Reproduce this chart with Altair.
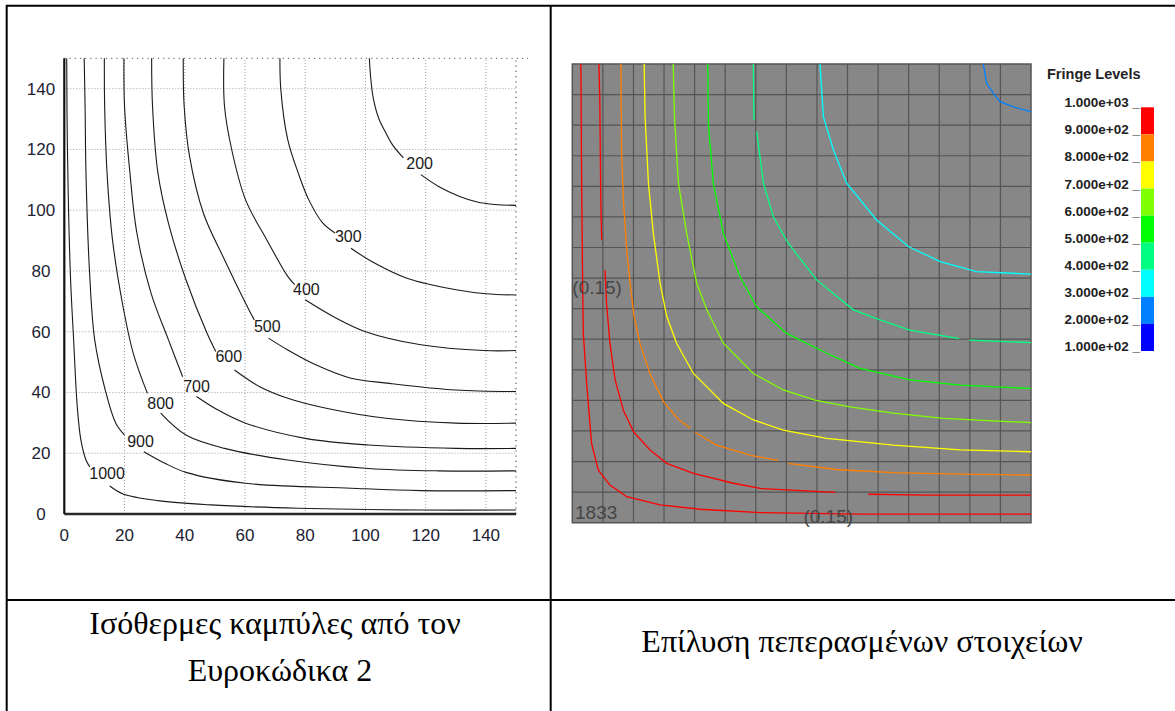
import altair as alt
import pandas as pd

# ------------------------------------------------------------------ data
# Left panel: Eurocode 2 isotherms (quarter section, mm), segments split at labels
EC2_1000 = [[(0.8, 150), (1.0, 123.2), (2.0, 79.3), (3.1, 57.3), (4.3, 35.4), (5.5, 24.4), (7.2, 17.8), (8.5, 15.5)],
            [(15.1, 9.2), (19.5, 6.6), (31.1, 4.4), (48.6, 3.0), (77.7, 1.9), (118.4, 1.3), (150, 1.3)]]
EC2_900 = [[(6.6, 150), (6.9, 134.2), (7.2, 112.2), (8.4, 79.3), (10.1, 57.3), (13.6, 40.8), (17.1, 29.9), (20.0, 26.0)],
           [(26.4, 20.5), (33.4, 16.7), (40.4, 13.7), (60.2, 10.1), (95.2, 8.5), (118.4, 7.7), (150, 7.7)]]
EC2_800 = [[(13.3, 150), (13.4, 134.2), (14.2, 112.2), (16.0, 90.3), (19.5, 68.3), (22.9, 52.9), (27.6, 39.7)],
           [(32.0, 33.2), (40.4, 26.0), (53.2, 21.6), (74.2, 17.8), (101.0, 15.0), (124.3, 14.2), (150, 14.2)]]
EC2_700 = [[(19.8, 150), (20.0, 134.2), (21.8, 112.2), (24.1, 92.5), (28.8, 72.7), (34.6, 57.3), (39.3, 45.2)],
           [(43.9, 38.7), (50.9, 34.3), (60.2, 29.9), (80.0, 24.9), (101.0, 22.7), (130.1, 21.6), (150, 21.6)]]
EC2_600 = [[(29.0, 150), (29.3, 134.2), (31.1, 112.2), (34.6, 95.7), (40.4, 77.1), (47.4, 59.5), (50.3, 53.5)],
           [(56.5, 47.4), (64.9, 41.9), (74.2, 38.1), (87.0, 34.8), (106.8, 31.5), (130.1, 29.9), (150, 29.9)]]
EC2_500 = [[(39.5, 150), (39.8, 134.2), (41.6, 117.7), (46.2, 99.0), (53.2, 83.7), (60.2, 69.4), (63.1, 63.9)],
           [(67.8, 57.9), (74.2, 54.0), (83.5, 49.1), (95.2, 44.7), (108.0, 43.0), (130.1, 40.8), (150, 40.3)]]
EC2_400 = [[(53.0, 150), (53.2, 134.2), (55.6, 119.9), (60.2, 103.4), (67.2, 90.3), (74.2, 78.2), (76.5, 75.5)],
           [(80.0, 70.5), (89.3, 65.0), (99.8, 60.1), (118.4, 55.7), (139.4, 53.8), (150, 53.8)]]
EC2_300 = [[(71.6, 150), (71.9, 139.7), (74.2, 123.2), (77.7, 112.2), (81.2, 103.4), (85.8, 95.8), (89.9, 92.5)],
           [(95.2, 87.5), (102.1, 83.1), (113.8, 77.6), (130.1, 73.8), (140.0, 72.5), (150, 72.1)]]
EC2_200 = [[(101.3, 150), (101.8, 143.0), (102.7, 136.4), (104.5, 130.0), (106.8, 125.4), (109.0, 121.5), (112.6, 117.2)],
           [(118.4, 111.7), (124.3, 107.8), (131.3, 104.5), (137.1, 102.7), (143.0, 101.9), (150, 101.6)]]

EC2_LABEL_TEXT = ["1000", "900", "800", "700", "600", "500", "400", "300", "200"]
EC2_LABEL_X = [14.2, 25.3, 32.0, 43.9, 54.6, 67.4, 80.4, 94.3, 118.0]
EC2_LABEL_Y = [13.2, 23.8, 36.1, 41.9, 51.8, 61.7, 73.8, 91.1, 115.3]

AXIS_TICKS = [0, 20, 40, 60, 80, 100, 120, 140]
GRID_TICKS = [20, 40, 60, 80, 100, 120, 140]

# Right panel: finite element solution isotherms
FE_1000 = [[(2.8, 150), (3.05, 112.1), (3.4, 76.1), (3.6, 61.9), (4.7, 45.6), (6.3, 25.9), (8.5, 17.2), (12.3, 12.3),
            (17.8, 8.5), (28.7, 5.8), (41.8, 4.4), (61.4, 3.3), (94.1, 2.8), (150, 2.8)]]
FE_900 = [[(8.7, 150), (9.0, 138.2), (9.3, 106.6), (9.6, 92.5)],
          [(10.7, 82.6), (11.2, 71.7), (12.3, 58.7), (14.0, 46.7), (16.7, 36.8), (20.0, 29.8), (25.4, 23.8),
           (30.9, 19.4), (39.6, 16.1), (52.7, 12.9), (61.4, 11.2), (86.0, 9.9)],
          [(96.8, 9.3), (115.9, 9.0), (150, 9.0)]]
FE_800 = [[(15.9, 150), (16.1, 121.9), (16.7, 105.5), (17.8, 89.2), (18.9, 78.3), (20.2, 67.4), (22.1, 58.7),
           (25.4, 48.8), (29.8, 39.6), (34.5, 34.0), (38.5, 30.9)],
          [(40.2, 29.5), (47.2, 25.4), (58.1, 22.1), (67.4, 20.3)],
          [(70.6, 19.4), (86.4, 17.4), (105.0, 16.4), (126.8, 15.9), (150, 15.6)]]
FE_700 = [[(23.5, 150), (23.8, 132.8), (24.9, 111.0), (26.5, 94.6), (28.7, 78.3), (30.9, 67.4), (34.1, 58.7),
           (39.6, 48.8), (49.4, 39.0), (59.2, 33.6), (69.0, 30.3), (83.2, 27.6), (105.0, 25.4), (126.8, 23.8), (150, 23.2)]]
FE_600 = [[(33.0, 150), (33.4, 132.8), (34.7, 111.0), (37.4, 94.6), (40.7, 78.3), (44.0, 69.6), (49.4, 58.7),
           (59.2, 48.8), (69.0, 43.4), (79.4, 40.1), (90.8, 37.9), (105.0, 35.8), (121.3, 34.1), (150, 32.7)]]
FE_500 = [[(44.3, 150), (44.5, 130.6), (46.1, 111.0), (49.4, 94.6), (54.8, 80.5), (60.3, 70.6), (70.1, 61.9),
           (83.2, 55.4), (94.1, 50.5), (110.4, 46.7), (126.8, 45.0), (150, 43.9)]]
FE_400 = [[(59.2, 150), (59.4, 131.7)],
          [(60.3, 127.9), (62.5, 111.0), (65.7, 100.1), (70.6, 91.4), (79.9, 79.4), (91.9, 69.6), (100.6, 66.3),
           (110.4, 63.0), (126.5, 60.2)],
          [(129.8, 59.7), (150, 58.9)]]
FE_300 = [[(81.0, 150), (82.1, 132.8), (85.4, 121.9), (89.7, 111.0), (99.5, 99.0), (109.9, 90.3), (120.3, 85.4),
           (132.2, 82.1), (150, 81.3)]]
FE_200 = [[(134.4, 150), (135.5, 143.7), (137.7, 140.4), (139.9, 137.7), (144.2, 136.0), (150, 134.4)]]

FE_LEVELS = ["1000", "900", "800", "700", "600", "500", "400", "300", "200"]
FE_LINE_COLORS = ["#ff0000", "#ff0000", "#ff8000", "#ffff00", "#80ff00", "#00ff00", "#00ff80", "#00ffff", "#0080ff"]
FE_GRID = [10, 20, 30, 40, 50, 60, 70, 80, 90, 100, 110, 120, 130, 140]

FE_NOTE_TEXT = ["(0.15)", "1833", "(0.15)"]
FE_NOTE_X = [0.0, 0.9, 83.7]
FE_NOTE_Y = [76.6, 3.1, 2.0]
FE_NOTE_ALIGN = ["left", "left", "center"]

LEGEND_VALUES = [1000, 900, 800, 700, 600, 500, 400, 300, 200, 100]
LEGEND_BAND_COLORS = ["#ff0000", "#ff8000", "#ffff00", "#80ff00", "#00ff00", "#00ff80", "#00ffff", "#0080ff", "#0000ff"]

CAPTION_LEFT = ["Ισόθερμες καμπύλες από τον", "Ευροκώδικα 2"]
CAPTION_RIGHT = "Επίλυση πεπερασμένων στοιχείων"


# ------------------------------------------------------------------ frames
def contour_frame(curves):
    rows = []
    for lev, segs in curves:
        for s, seg in enumerate(segs):
            for i, (x, y) in enumerate(seg):
                rows.append(dict(level=lev, seg=f"{lev}-{s}", i=i, x=x, y=y))
    return pd.DataFrame(rows)


ec2_df = contour_frame([("1000", EC2_1000), ("900", EC2_900), ("800", EC2_800), ("700", EC2_700),
                        ("600", EC2_600), ("500", EC2_500), ("400", EC2_400), ("300", EC2_300), ("200", EC2_200)])
fe_df = contour_frame([("1000", FE_1000), ("900", FE_900), ("800", FE_800), ("700", FE_700),
                       ("600", FE_600), ("500", FE_500), ("400", FE_400), ("300", FE_300), ("200", FE_200)])
ec2_lab = pd.DataFrame({"t": EC2_LABEL_TEXT, "x": EC2_LABEL_X, "y": EC2_LABEL_Y})
ticks_df = pd.DataFrame({"v": AXIS_TICKS, "t": [str(v) for v in AXIS_TICKS]})
grid_df = pd.DataFrame({"v": GRID_TICKS, "lo": 0, "hi": 150})
fe_grid_df = pd.DataFrame({"v": FE_GRID, "lo": 0, "hi": 150})
frame_df = pd.DataFrame({"lo": [0], "hi": [150]})
fe_notes = pd.DataFrame({"t": FE_NOTE_TEXT, "x": FE_NOTE_X, "y": FE_NOTE_Y, "a": FE_NOTE_ALIGN})
bands = pd.DataFrame({"lo": LEGEND_VALUES[1:], "hi": LEGEND_VALUES[:-1],
                      "band": [str(v) for v in LEGEND_VALUES[:-1]]})
leg_lab = pd.DataFrame({"v": LEGEND_VALUES, "t": [f"{v:.3e} _" for v in LEGEND_VALUES]})
one = pd.DataFrame({"k": [0]})

# ------------------------------------------------------------------ scales
XL = alt.Scale(domain=[0, 150], range=[64.3, 516], nice=False, zero=False)
YL = alt.Scale(domain=[0, 150], range=[514, 58.3], nice=False, zero=False)
XF = alt.Scale(domain=[0, 150], range=[572.3, 1031], nice=False, zero=False)
YF = alt.Scale(domain=[0, 150], range=[522.7, 64], nice=False, zero=False)
YG = alt.Scale(domain=[100, 1000], range=[351, 107.3], nice=False, zero=False)

SANS = "Liberation Sans"
SERIF = "Liberation Serif"

layers = []

# ---------------- table borders
def vrule(x, y1, y2, w=2):
    return alt.Chart(one).mark_rule(color="black", strokeWidth=w).encode(
        x=alt.value(x), y=alt.value(y1), y2=alt.value(y2))

def hrule(y, x1, x2, w=2):
    return alt.Chart(one).mark_rule(color="black", strokeWidth=w).encode(
        y=alt.value(y), x=alt.value(x1), x2=alt.value(x2))

layers += [hrule(5.7, 6, 1175), hrule(600, 6, 1175), vrule(6.7, 5, 711), vrule(550.7, 5, 711)]

# ---------------- left panel: grid
layers.append(alt.Chart(grid_df).mark_rule(color="#a0a0a0", strokeWidth=1, strokeDash=[1, 2]).encode(
    x=alt.X("v:Q", scale=XL, axis=None), y=alt.Y("lo:Q", scale=YL, axis=None), y2="hi:Q"))
layers.append(alt.Chart(grid_df).mark_rule(color="#a0a0a0", strokeWidth=1, strokeDash=[1, 2]).encode(
    y=alt.Y("v:Q", scale=YL, axis=None), x=alt.X("lo:Q", scale=XL, axis=None), x2="hi:Q"))
# dotted frame at 150
layers.append(alt.Chart(frame_df).mark_rule(color="#555555", strokeWidth=1.2, strokeDash=[1.2, 4]).encode(
    x=alt.X("hi:Q", scale=XL, axis=None), y=alt.Y("lo:Q", scale=YL, axis=None), y2="hi:Q"))
layers.append(alt.Chart(pd.DataFrame({"lo": [0], "hi": [154], "top": [150]})).mark_rule(
    color="#777777", strokeWidth=1.2, strokeDash=[1.2, 4]).encode(
    y=alt.Y("top:Q", scale=YL, axis=None), x=alt.X("lo:Q", scale=XL, axis=None), x2="hi:Q"))
# axis lines
layers.append(alt.Chart(frame_df).mark_rule(color="#2a2a2a", strokeWidth=2.6).encode(
    y=alt.Y("lo:Q", scale=YL, axis=None), x=alt.X("lo:Q", scale=XL, axis=None), x2="hi:Q"))
layers.append(alt.Chart(frame_df).mark_rule(color="#111111", strokeWidth=2.2).encode(
    x=alt.X("lo:Q", scale=XL, axis=None), y=alt.Y("lo:Q", scale=YL, axis=None), y2="hi:Q"))
# tick labels
layers.append(alt.Chart(ticks_df).mark_text(font=SANS, fontSize=17, color="#222233", align="center",
                                            baseline="middle").encode(
    x=alt.X("v:Q", scale=XL, axis=None), y=alt.value(536), text="t:N"))
layers.append(alt.Chart(ticks_df).mark_text(font=SANS, fontSize=17, color="#222233", align="center",
                                            baseline="middle", dy=1).encode(
    y=alt.Y("v:Q", scale=YL, axis=None), x=alt.value(41), text="t:N"))
# contours
layers.append(alt.Chart(ec2_df).mark_line(color="#1a1a1a", strokeWidth=1.1, interpolate="catmull-rom").encode(
    x=alt.X("x:Q", scale=XL, axis=None), y=alt.Y("y:Q", scale=YL, axis=None),
    detail="seg:N", order="i:Q"))
layers.append(alt.Chart(ec2_lab).mark_text(font=SANS, fontSize=16, color="#1a1a1a", align="center",
                                           baseline="middle").encode(
    x=alt.X("x:Q", scale=XL, axis=None), y=alt.Y("y:Q", scale=YL, axis=None), text="t:N"))

# ---------------- right panel: finite element result
layers.append(alt.Chart(frame_df).mark_rect(fill="#878787", stroke="#555555", strokeWidth=1.5).encode(
    x=alt.X("lo:Q", scale=XF, axis=None), x2="hi:Q", y=alt.Y("lo:Q", scale=YF, axis=None), y2="hi:Q"))
layers.append(alt.Chart(fe_grid_df).mark_rule(color="#555555", strokeWidth=1.2).encode(
    x=alt.X("v:Q", scale=XF, axis=None), y=alt.Y("lo:Q", scale=YF, axis=None), y2="hi:Q"))
layers.append(alt.Chart(fe_grid_df).mark_rule(color="#555555", strokeWidth=1.2).encode(
    y=alt.Y("v:Q", scale=YF, axis=None), x=alt.X("lo:Q", scale=XF, axis=None), x2="hi:Q"))
layers.append(alt.Chart(fe_df).mark_line(strokeWidth=1.3).encode(
    x=alt.X("x:Q", scale=XF, axis=None), y=alt.Y("y:Q", scale=YF, axis=None),
    color=alt.Color("level:N", scale=alt.Scale(domain=FE_LEVELS, range=FE_LINE_COLORS), legend=None),
    detail="seg:N", order="i:Q"))
for al in ["left", "center"]:
    layers.append(alt.Chart(fe_notes[fe_notes.a == al]).mark_text(
        font=SANS, fontSize=19, color="#454545", align=al, baseline="middle").encode(
        x=alt.X("x:Q", scale=XF, axis=None), y=alt.Y("y:Q", scale=YF, axis=None), text="t:N"))

# ---------------- fringe legend
layers.append(alt.Chart(one).mark_text(text="Fringe Levels", font=SANS, fontSize=14.5, fontWeight="bold",
                                       color="#222222", align="left", baseline="alphabetic").encode(
    x=alt.value(1047), y=alt.value(79)))
layers.append(alt.Chart(bands).mark_rect().encode(
    x=alt.value(1141), x2=alt.value(1154),
    y=alt.Y("lo:Q", scale=YG, axis=None), y2="hi:Q",
    color=alt.Color("band:N", scale=alt.Scale(domain=[str(v) for v in LEGEND_VALUES[:-1]],
                                              range=LEGEND_BAND_COLORS), legend=None)))
layers.append(alt.Chart(leg_lab).mark_text(font=SANS, fontSize=13.5, fontWeight="bold", color="#222222",
                                           align="right", baseline="alphabetic").encode(
    x=alt.value(1140), y=alt.Y("v:Q", scale=YG, axis=None), text="t:N"))

# ---------------- captions
layers.append(alt.Chart(one).mark_text(text=CAPTION_LEFT[0], font=SERIF, fontSize=32, color="black",
                                       align="center", baseline="alphabetic").encode(
    x=alt.value(275), y=alt.value(634)))
layers.append(alt.Chart(one).mark_text(text=CAPTION_LEFT[1], font=SERIF, fontSize=32, color="black",
                                       align="center", baseline="alphabetic").encode(
    x=alt.value(280), y=alt.value(681)))
layers.append(alt.Chart(one).mark_text(text=CAPTION_RIGHT, font=SERIF, fontSize=32, color="black",
                                       align="center", baseline="alphabetic").encode(
    x=alt.value(862), y=alt.value(652)))

chart = alt.layer(*layers).resolve_scale(
    x="independent", y="independent", color="independent"
).properties(
    width=1175, height=711, padding=0, autosize=alt.AutoSizeParams(type="none"),
    background="white"
).configure_view(stroke=None)

chart.save("out.html", embed_options={"renderer": "svg", "actions": False})
